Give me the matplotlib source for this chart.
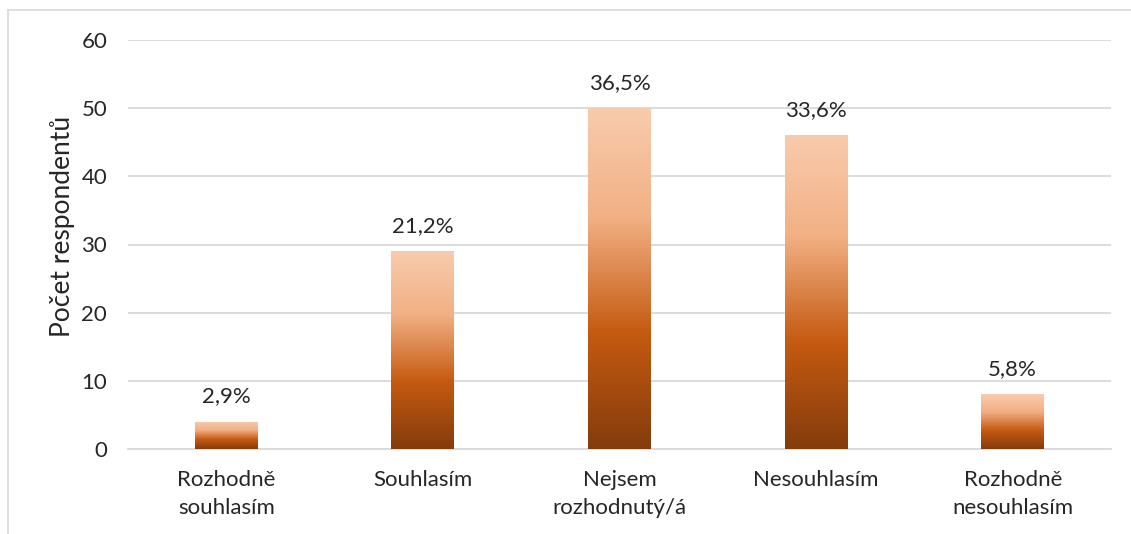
import matplotlib
matplotlib.use("Agg")
import matplotlib.pyplot as plt
import numpy as np
from matplotlib.colors import LinearSegmentedColormap
from matplotlib.lines import Line2D

categories = ["Rozhodně\nsouhlasím", "Souhlasím", "Nejsem\nrozhodnutý/á", "Nesouhlasím", "Rozhodně\nnesouhlasím"]
counts = [4, 29, 50, 46, 8]
percent_labels = ["2,9%", "21,2%", "36,5%", "33,6%", "5,8%"]
y_ticks = [0, 10, 20, 30, 40, 50, 60]

plt.rcParams["font.family"] = ["Lato", "DejaVu Sans"]

fig = plt.figure(figsize=(11.31, 5.34), dpi=100)
ax = fig.add_axes([128 / 1131, 1 - 449 / 534, (1111 - 128) / 1131, (449 - 40) / 534])

# bottom-to-top gradient: dark brown -> burnt orange -> pale peach
grad = LinearSegmentedColormap.from_list(
    "peach", [(0.0, "#843C0C"), (0.34, "#C55A11"), (0.68, "#F2B084"), (1.0, "#F8CBAD")]
)
gradient = np.linspace(0, 1, 256).reshape(-1, 1)

bar_width = 0.32
x = np.arange(len(categories))
bars = ax.bar(x, counts, width=bar_width, color="none", edgecolor="none", zorder=3)
for rect in bars:
    x0, y0 = rect.get_x(), rect.get_y()
    w, h = rect.get_width(), rect.get_height()
    im = ax.imshow(gradient, cmap=grad, origin="lower", aspect="auto",
                   extent=(x0, x0 + w, y0, y0 + h), zorder=3, interpolation="bilinear")
    im.set_clip_path(rect)

for xi, c, lab in zip(x, counts, percent_labels):
    ax.annotate(lab, (xi, c), xytext=(0, 11), textcoords="offset points",
                ha="center", va="bottom", fontsize=16, color="#262626")

ax.set_xlim(-0.5, len(categories) - 0.5)
ax.set_ylim(0, 60)
ax.set_yticks(y_ticks)
ax.set_xticks(x)
ax.set_xticklabels(categories, fontsize=16, color="#262626", linespacing=1.5)
ax.tick_params(axis="y", labelsize=16, labelcolor="#262626", length=0, pad=15)
ax.tick_params(axis="x", length=0, pad=15)
ax.grid(axis="y", color="#D9D9D9", linewidth=1.3, zorder=0)
ax.set_axisbelow(True)
for side in ["top", "right", "left"]:
    ax.spines[side].set_visible(False)
ax.spines["bottom"].set_color("#D9D9D9")
ax.spines["bottom"].set_linewidth(1.3)

ax.set_ylabel("Počet respondentů", fontsize=19, color="#262626", va="center")
ax.yaxis.set_label_coords(-0.067, 0.545)

# outer chart frame (left and top edges)
fig.add_artist(Line2D([8 / 1131, 8 / 1131], [0, 1 - 10 / 534], color="#D9D9D9", lw=1.2,
                      transform=fig.transFigure))
fig.add_artist(Line2D([8 / 1131, 1], [1 - 10 / 534, 1 - 10 / 534], color="#D9D9D9", lw=1.2,
                      transform=fig.transFigure))

fig.savefig("out.png", dpi=100, facecolor="white")
